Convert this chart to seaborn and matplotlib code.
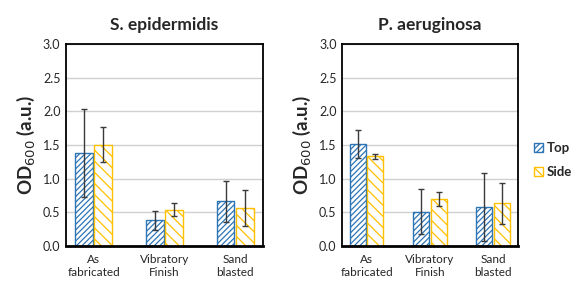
import numpy as np
import pandas as pd
import seaborn as sns
import matplotlib.pyplot as plt
from matplotlib.patches import Patch

surfaces = ['As\nfabricated', 'Vibratory\nFinish', 'Sand\nblasted']
faces = ['Top', 'Side']

# S. epidermidis
se_top = [1.38, 0.38, 0.66]
se_top_err = [0.66, 0.14, 0.30]
se_side = [1.50, 0.54, 0.56]
se_side_err = [0.26, 0.10, 0.27]

# P. aeruginosa
pa_top = [1.51, 0.51, 0.58]
pa_top_err = [0.21, 0.33, 0.50]
pa_side = [1.33, 0.70, 0.63]
pa_side_err = [0.04, 0.10, 0.31]

colors = {'Top': '#2E75B6', 'Side': '#FFC000'}
hatches = {'Top': '//////', 'Side': '\\\\\\'}

sns.set_style('white')
plt.rcParams['font.family'] = ['Lato', 'DejaVu Sans']
plt.rcParams['hatch.linewidth'] = 0.9


def make_df(top, top_err, side, side_err):
    return pd.DataFrame({
        'surface': surfaces * 2,
        'face': ['Top'] * 3 + ['Side'] * 3,
        'od': top + side,
        'err': top_err + side_err,
    })


fig = plt.figure(figsize=(5.74, 2.83), dpi=100)
ax1 = fig.add_axes([0.115, 0.131, 0.343, 0.714])
ax2 = fig.add_axes([0.596, 0.131, 0.306, 0.714])

panels = [
    (ax1, 'S. epidermidis', make_df(se_top, se_top_err, se_side, se_side_err)),
    (ax2, 'P. aeruginosa', make_df(pa_top, pa_top_err, pa_side, pa_side_err)),
]

for ax, title, df in panels:
    sns.barplot(data=df, x='surface', y='od', hue='face', hue_order=faces,
                order=surfaces, width=0.55, gap=0.08, errorbar=None,
                legend=False, ax=ax)
    for cont, face in zip(ax.containers, faces):
        sub = df[df['face'] == face]
        xs, ys = [], []
        for bar in cont:
            bar.set_facecolor('white')
            bar.set_edgecolor(colors[face])
            bar.set_hatch(hatches[face])
            bar.set_linewidth(1.0)
            xs.append(bar.get_x() + bar.get_width() / 2)
            ys.append(bar.get_height())
        ax.errorbar(xs, ys, yerr=sub['err'].values, fmt='none',
                    ecolor='#3a3a3a', elinewidth=1.0, capsize=2.5,
                    capthick=1.0, zorder=5)
    ax.set_ylim(0, 3.0)
    ax.set_yticks(np.arange(0, 3.01, 0.5))
    ax.set_yticklabels([f'{v:.1f}' for v in np.arange(0, 3.01, 0.5)],
                       fontsize=9)
    ax.tick_params(axis='x', labelsize=8.5, length=0, pad=6)
    ax.tick_params(axis='y', length=0, pad=4)
    ax.yaxis.grid(True, color='#d0d0d0', linewidth=1.0)
    ax.set_axisbelow(True)
    for side in ['left', 'right', 'top']:
        ax.spines[side].set_color('black')
        ax.spines[side].set_linewidth(1.3)
    ax.spines['bottom'].set_color('black')
    ax.spines['bottom'].set_linewidth(2.0)
    ax.set_xlabel('')
    ax.set_ylabel('OD$_{600}$ (a.u.)', fontsize=13.5, fontweight='bold',
                  labelpad=4)
    ax.set_title(title, fontsize=12.5, fontweight='bold', pad=10)

handles = [Patch(facecolor='white', edgecolor=colors[f], hatch=hatches[f],
                 linewidth=1.0, label=f) for f in faces]
leg = ax2.legend(handles=handles, loc='center left',
                 bbox_to_anchor=(1.09, 0.425), frameon=False,
                 borderaxespad=0, borderpad=0,
                 handlelength=0.75, handleheight=0.75, handletextpad=0.25,
                 labelspacing=0.9, prop={'size': 9.5, 'weight': 'bold'})

fig.savefig('out.png', dpi=100)
